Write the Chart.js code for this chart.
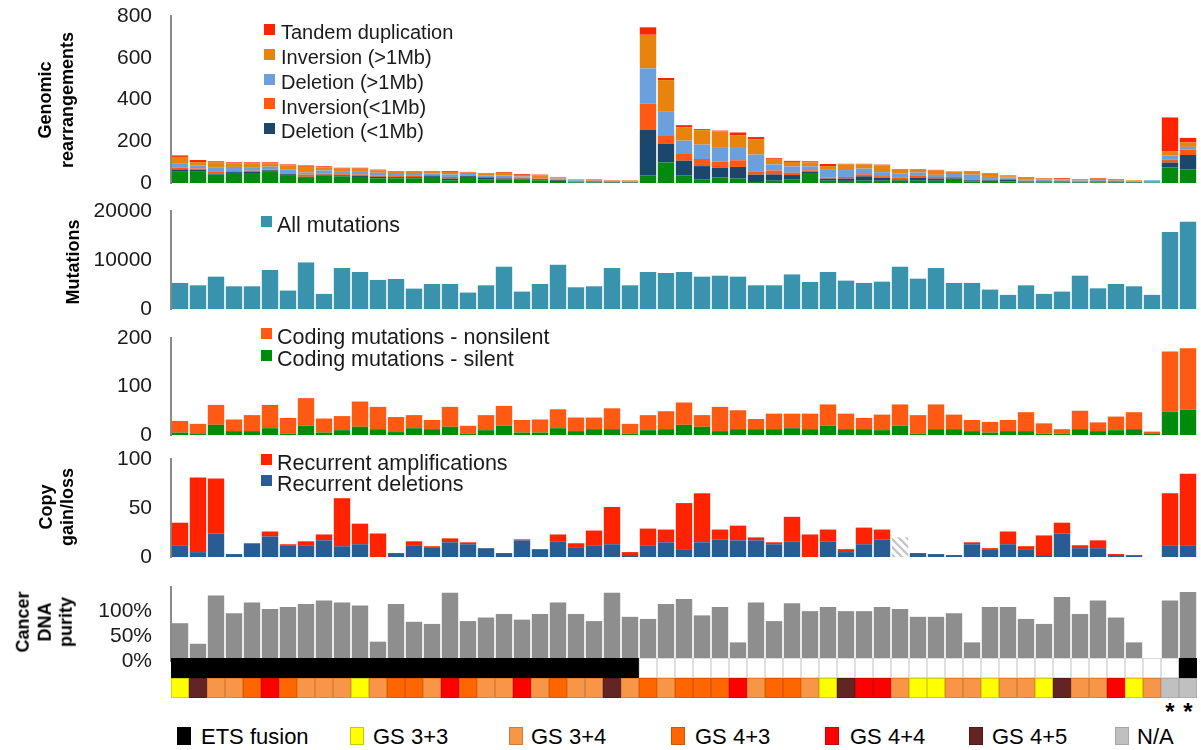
<!DOCTYPE html>
<html><head><meta charset="utf-8"><title>Tumour genome profiles</title>
<script src="https://cdn.jsdelivr.net/npm/chart.js@4.4.1/dist/chart.umd.min.js"></script>
<style>
html,body{margin:0;padding:0;background:#fff}
body{position:relative;width:1201px;height:750px;overflow:hidden;font-family:"Liberation Sans",Arial,Helvetica,sans-serif}
canvas{position:absolute;left:0}
.ttl{position:absolute;font-weight:bold;font-size:18px;color:#000;white-space:nowrap;text-align:center;transform:translate(-50%,-50%) rotate(-90deg)}
.lgt{position:absolute;white-space:nowrap;color:#1a1a1a}
.lgs{position:absolute}
.ast{position:absolute;font-weight:bold;font-size:24px;line-height:24px;color:#000;transform:translateX(-50%)}
</style></head><body>
<script>
// ---------------- DATA ----------------
const samples = ['S1','S2','S3','S4','S5','S6','S7','S8','S9','S10','S11','S12','S13','S14','S15','S16','S17','S18','S19','S20',
  'S21','S22','S23','S24','S25','S26','S27','S28','S29','S30','S31','S32','S33','S34','S35','S36','S37','S38','S39','S40',
  'S41','S42','S43','S44','S45','S46','S47','S48','S49','S50','S51','S52','S53','S54','S55','S56','S57'];

// Genomic rearrangements (stack, bottom to top)
const rearrOther   = [57,57,40,48,48,57,38,25,35,32,29,22,22,22,29,13,29,16,16,16,13,5,3,3,2,2,37,98,37,16,26,21,5,11,16,48,11,10,11,11,11,11,11,20,8,10,8,3,3,3,2,3,2,1,2,74,64];
const delSmall     = [8,6,5,4,5,4,4,5,5,5,6,8,6,6,4,8,4,8,6,5,5,8,3,3,3,2,219,91,70,65,46,56,35,30,22,5,10,11,21,14,6,13,10,3,5,3,8,4,4,4,3,4,4,3,0,24,70];
const invSmall     = [8,7,8,5,6,4,5,10,5,5,6,6,5,6,5,8,4,5,6,5,4,4,3,6,3,2,125,40,32,34,30,32,16,19,11,8,5,8,10,8,8,10,8,6,5,5,4,4,3,4,3,3,5,2,0,13,26];
const delLarge     = [22,13,20,20,17,13,19,10,15,15,16,13,10,9,8,12,6,6,8,5,7,4,4,2,2,3,168,112,64,69,70,59,80,29,30,19,37,33,27,19,20,16,10,14,22,11,6,7,7,6,4,4,2,3,11,21,13];
const invLarge     = [30,17,27,18,19,17,19,28,15,12,12,11,11,11,8,12,7,10,13,8,8,6,4,2,1,3,161,152,64,69,75,61,73,27,22,19,18,27,20,32,19,14,21,10,13,14,6,7,5,3,5,7,2,3,0,21,21];
const tandemDup    = [7,10,4,4,4,4,4,6,5,4,4,4,3,3,3,4,3,3,4,4,3,2,1,2,2,1,36,10,10,5,4,13,11,4,5,5,10,3,3,4,3,3,3,2,3,3,4,3,2,4,2,3,3,1,0,161,22];

// Mutations
const allMutations = [5320,4830,6600,4630,4630,7960,3760,9500,3080,8360,7550,5930,6130,4160,5110,5110,3350,4830,8630,3550,5110,9030,4430,4630,8360,4830,
  7550,7350,7550,6600,6800,6600,4830,4830,7060,5520,7550,5790,5320,5580,8630,6190,8360,5320,5320,3960,2880,4830,3080,3550,6800,4220,5110,4630,2880,15730,17820];

// Coding mutations
const codingSilent    = [5,2,21,8,8,14,3,19,5,10,17,12,6,14,12,17,3,10,19,5,5,14,8,12,12,3,10,12,21,17,8,12,12,12,14,12,19,12,12,10,19,3,12,12,8,5,8,8,3,3,12,8,10,12,2,48,52];
const codingNonsilent = [24,21,41,24,33,48,32,57,29,29,52,46,31,27,19,41,16,31,41,26,27,39,28,24,43,20,31,37,46,24,50,39,21,32,30,32,44,32,23,32,44,38,51,30,23,22,23,39,21,9,38,18,28,35,5,124,127];

// Copy number
const recurrentDeletions = [12,5,24,3,14,21,12,12,17,11,13,0,4,12,10,15,13,9,4,17,8,16,10,12,13,2,12,15,8,15,18,17,17,13,16,0,16,5,13,18,null,4,3,2,13,8,13,8,2,24,9,9,2,1,null,12,12];
const recurrentAmplifications = [23,76,56,0,0,5,1,4,6,49,21,24,0,4,1,4,2,0,0,1,0,7,4,15,38,3,17,13,47,50,10,15,3,2,25,23,12,3,17,10,null,0,0,0,2,1,13,3,20,11,3,8,1,1,null,53,73];
const copyNotAvailable = [null,null,null,null,null,null,null,null,null,null,null,null,null,null,null,null,null,null,null,null,null,null,null,null,null,null,null,null,null,null,null,null,null,null,null,null,null,null,null,null,20,null,null,null,null,null,null,null,null,null,null,null,null,null,null,null,null];

// Cancer DNA purity (%)
const purity = [49,20,88,63,78,69,72,76,81,78,74,23,76,51,48,92,52,57,62,54,62,78,62,52,92,58,
  55,76,83,60,72,22,78,52,77,66,72,66,66,72,69,58,58,63,22,72,72,55,48,86,62,81,57,22,null,81,93];

// Annotation rows
const etsFusion = [1,1,1,1,1,1,1,1,1,1,1,1,1,1,1,1,1,1,1,1,1,1,1,1,1,1,0,0,0,0,0,0,0,0,0,0,0,0,0,0,0,0,0,0,0,0,0,0,0,0,0,0,0,0,0,0,1];
const gleason = ['3+3','4+5','3+4','3+4','4+3','4+4','4+3','3+4','3+4','3+4','3+3','3+4','4+3','4+3','3+4','4+4','4+3','3+4','3+4','4+4','3+4','4+3','3+4','3+4','4+5','3+4',
  '4+3','3+4','4+3','4+3','4+3','4+4','3+4','4+3','4+3','3+4','3+3','4+5','4+4','4+4','3+4','3+3','3+3','3+4','3+4','3+3','3+4','3+4','3+3','4+5','3+4','3+4','4+4','3+3','3+4','N/A','N/A'];
const gleasonKeys   = ['3+3','3+4','4+3','4+4','4+5','N/A'];
const gleasonNames  = ['GS 3+3','GS 3+4','GS 4+3','GS 4+4','GS 4+5','N/A'];

// Tick settings
const rearrTicks = {max:800, step:200};
const mutTicks   = {max:20000, step:10000};
const codTicks   = {max:200, step:100};
const cnTicks    = {max:100, step:50};
const purTicks   = [0,50,100];

// ---------------- STYLE ----------------
const FONT = '"Liberation Sans", Arial, Helvetica, sans-serif';
const PAD = 36, LEFT = 171, RIGHT_PAD = 4;
const C = {
  other:'#008A0E', delS:'#1B476D', invS:'#FF5A14', delL:'#6CA0DC', invL:'#E8830E', tandem:'#FF2400',
  mut:'#3A93AC', nonsil:'#FF5A14', sil:'#008A0E', amp:'#FF2300', del:'#285C92', pur:'#8E8E8E'
};
const gsFill   = {'3+3':'#FFFF00','3+4':'#F79646','4+3':'#FF6600','4+4':'#FF0000','4+5':'#632523','N/A':'#C0C0C0'};
const gsBorder = {'3+3':'#C9C900','3+4':'#D27B38','4+3':'#D45500','4+4':'#CC0000','4+5':'#4A1A19','N/A':'#A8A8A8'};

function makeCanvas(top, bottom, pad){
  const c = document.createElement('canvas');
  const h = bottom - top + 2*pad;
  c.width = 1201; c.height = h;
  c.style.width = '1201px'; c.style.height = h + 'px';
  c.style.top = (top - pad) + 'px';
  document.body.appendChild(c);
  return c.getContext('2d');
}
function yAxis(max, step, extra){
  return Object.assign({
    min:0, max:max, stacked:true,
    afterFit: s => { s.width = LEFT; },
    ticks:{stepSize:step, padding:19, color:'#1a1a1a', font:{family:FONT, size:21}, callback: v => String(v)},
    grid:{display:false, drawTicks:false},
    border:{display:true, color:'#8a8a8a', width:2}
  }, extra || {});
}
function opts(scalesY, pad, left){
  return {
    responsive:false, maintainAspectRatio:false, animation:false,
    layout:{padding:{top:pad, bottom:pad, left:left||0, right:RIGHT_PAD}},
    plugins:{legend:{display:false}, tooltip:{enabled:false}},
    datasets:{bar:{categoryPercentage:1.0, barPercentage:0.91, borderWidth:0}},
    scales:Object.assign({x:{display:false, stacked:true, offset:true, grid:{display:false}}}, scalesY)
  };
}
function ds(label, data, color, extra){
  return Object.assign({label:label, data:data, backgroundColor:color}, extra || {});
}
function hatch(){
  const p = document.createElement('canvas'); p.width = 8; p.height = 8;
  const g = p.getContext('2d');
  g.fillStyle = '#ffffff'; g.fillRect(0,0,8,8);
  g.strokeStyle = '#c6c6c6'; g.lineWidth = 2.4;
  g.beginPath();
  g.moveTo(-2,-2); g.lineTo(10,10);
  g.moveTo(-6,2); g.lineTo(6,14);
  g.moveTo(2,-6); g.lineTo(14,6);
  g.stroke();
  return g.createPattern(p, 'repeat');
}

// ---------------- PANELS ----------------
// 1. Genomic rearrangements
const rearrSeries = [
  ['Other rearrangements', rearrOther, C.other, false],
  ['Deletion (<1Mb)', delSmall, C.delS, true],
  ['Inversion(<1Mb)', invSmall, C.invS, true],
  ['Deletion (>1Mb)', delLarge, C.delL, true],
  ['Inversion (>1Mb)', invLarge, C.invL, true],
  ['Tandem duplication', tandemDup, C.tandem, true]
];
new Chart(makeCanvas(16, 183, PAD), {
  type:'bar',
  data:{labels:samples, datasets:rearrSeries.map(s => ds(s[0], s[1], s[2]))},
  options:opts({y:yAxis(rearrTicks.max, rearrTicks.step)}, PAD)
});

// 2. Mutations
new Chart(makeCanvas(211, 309, PAD), {
  type:'bar',
  data:{labels:samples, datasets:[ds('All mutations', allMutations, C.mut)]},
  options:opts({y:yAxis(mutTicks.max, mutTicks.step)}, PAD)
});

// 3. Coding mutations
new Chart(makeCanvas(338, 435, PAD), {
  type:'bar',
  data:{labels:samples, datasets:[
    ds('Coding mutations - silent', codingSilent, C.sil),
    ds('Coding mutations - nonsilent', codingNonsilent, C.nonsil)
  ]},
  options:opts({y:yAxis(codTicks.max, codTicks.step)}, PAD)
});

// 4. Copy gain/loss
new Chart(makeCanvas(459, 557, PAD), {
  type:'bar',
  data:{labels:samples, datasets:[
    ds('Recurrent deletions', recurrentDeletions, C.del),
    ds('Recurrent amplifications', recurrentAmplifications, C.amp),
    ds('Not available', copyNotAvailable, hatch())
  ]},
  options:opts({y:yAxis(cnTicks.max, cnTicks.step)}, PAD)
});

// 5. Cancer DNA purity (bars on 'y', printed labels on 'yl' as placed in the original figure)
new Chart(makeCanvas(587, 661, PAD), {
  type:'bar',
  data:{labels:samples, datasets:[ds('Cancer DNA purity', purity, C.pur, {yAxisID:'y'})]},
  options:opts({
    y:{display:false, min:-4.23, max:100},
    yl:yAxis(148, 50, {position:'left', stacked:false,
        afterBuildTicks: s => { s.ticks = purTicks.map(v => ({value:v})); },
        ticks:{padding:19, color:'#1a1a1a', font:{family:FONT, size:21}, callback: v => v + '%'}})
  }, PAD)
});

// 6. ETS fusion row and Gleason row
function rowChart(top, bottom, label, fills, borders){
  return new Chart(makeCanvas(top, bottom, 0), {
    type:'bar',
    data:{labels:samples, datasets:[{label:label, data:samples.map(() => 1), backgroundColor:fills, borderColor:borders,
      borderWidth:1, borderSkipped:false, barPercentage:1, categoryPercentage:1}]},
    options:{
      responsive:false, maintainAspectRatio:false, animation:false,
      layout:{padding:{top:0, bottom:0, left:LEFT, right:RIGHT_PAD}},
      plugins:{legend:{display:false}, tooltip:{enabled:false}},
      scales:{x:{display:false, offset:true}, y:{display:false, min:0, max:1}}
    }
  });
}
rowChart(658, 678, 'ETS fusion', etsFusion.map(v => v ? '#000000' : '#ffffff'), etsFusion.map(v => v ? '#000000' : '#d2d2d2'));
const gsChart = rowChart(678, 698, 'Gleason score', gleason.map(g => gsFill[g]), gleason.map(g => gsBorder[g]));

// ---------------- TEXT: titles, legends ----------------
function addDiv(cls, html, css){
  const d = document.createElement('div'); d.className = cls; d.innerHTML = html;
  Object.assign(d.style, css); document.body.appendChild(d); return d;
}
addDiv('ttl', 'Genomic<br>rearrangements', {left:'56px', top:'100px', lineHeight:'22px'});
addDiv('ttl', 'Mutations', {left:'73px', top:'262px', lineHeight:'22px'});
addDiv('ttl', 'Copy<br>gain/loss', {left:'57px', top:'507px', lineHeight:'21px'});
addDiv('ttl', 'Cancer<br>DNA<br>purity', {left:'44.5px', top:'622px', lineHeight:'21.5px'});

function panelLegend(items, sqLeft, txtLeft, firstBaseline, step, size){
  const lh = Math.round(size * 1.2);
  items.forEach((it, i) => {
    const base = firstBaseline + i * step;
    const contentTop = base - (lh - size * 1.117) / 2 - size * 0.905;
    addDiv('lgs', '', {left:sqLeft + 'px', top:(base - size * 0.765) + 'px', width:'11px', height:'11px', background:it[1]});
    addDiv('lgt', it[0], {left:txtLeft + 'px', top:(contentTop) + 'px', fontSize:size + 'px', lineHeight:lh + 'px'});
  });
}
panelLegend(rearrSeries.filter(s => s[3]).reverse().map(s => [s[0], s[2]]), 264, 281, 39.3, 24.75, 20);
panelLegend([['All mutations', C.mut]], 261, 277, 232.3, 0, 21.5);
panelLegend([['Coding mutations - nonsilent', C.nonsil], ['Coding mutations - silent', C.sil]], 261, 277, 344.5, 21.5, 21.5);
panelLegend([['Recurrent amplifications', C.amp], ['Recurrent deletions', C.del]], 261, 277, 470, 21.7, 21.5);

// bottom legend
const bottomItems = [['ETS fusion', '#000000', '#000000']].concat(gleasonKeys.map((k, i) => [gleasonNames[i], gsFill[k], gsBorder[k]]));
const bottomSq  = [177, 350, 509, 671, 825, 969, 1115];
const bottomTxt = [201, 373, 531, 695, 850, 992, 1137];
bottomItems.forEach((it, i) => {
  addDiv('lgs', '', {left:bottomSq[i] + 'px', top:'727px', width:'12px', height:'16px', background:it[1], border:'1px solid ' + it[2]});
  addDiv('lgt', it[0], {left:bottomTxt[i] + 'px', top:'723.5px', fontSize:'22px', lineHeight:'26px', color:'#000'});
});

// asterisks under samples without Gleason score
const xs = gsChart.scales.x;
gleason.forEach((g, i) => {
  if (g === 'N/A') addDiv('ast', '*', {left:xs.getPixelForValue(i) + 'px', top:'700px'});
});
</script>
</body></html>
